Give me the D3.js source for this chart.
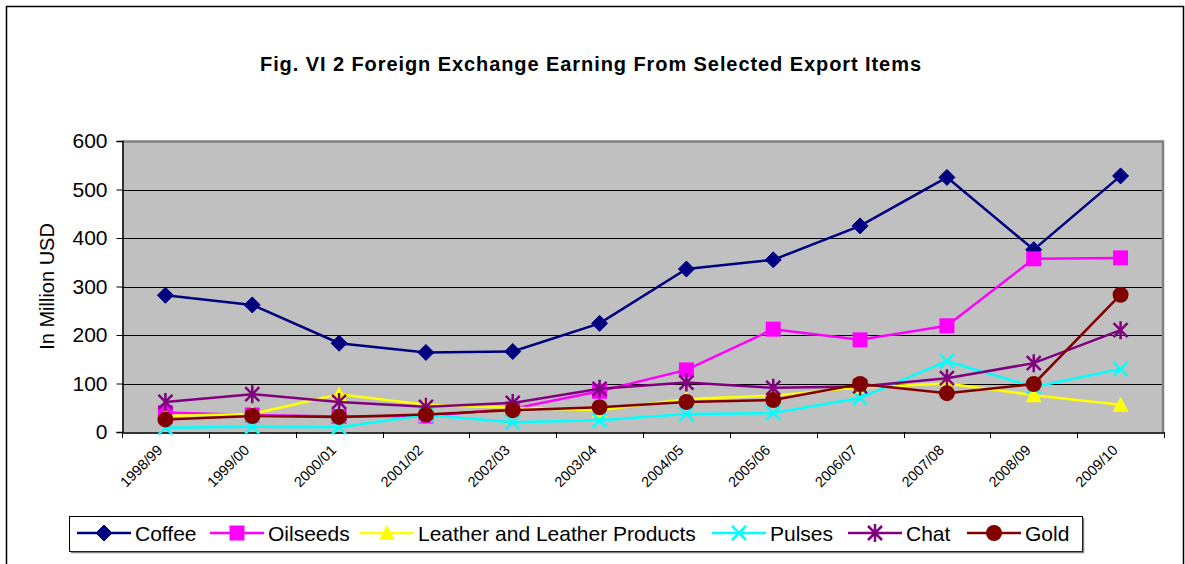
<!DOCTYPE html>
<html>
<head>
<meta charset="utf-8">
<script src="https://cdn.jsdelivr.net/npm/d3@7"></script>
<style>
  body { margin: 0; background: #fff; }
  svg { display: block; font-family: Arial, "Liberation Sans", sans-serif; }
</style>
</head>
<body>
<div id="chart"></div>
<script>
// data
var years = ["1998/99", "1999/00", "2000/01", "2001/02", "2002/03", "2003/04",
  "2004/05", "2005/06", "2006/07", "2007/08", "2008/09", "2009/10"];
var coffee = [282, 262, 183, 164, 166, 224, 336, 355, 425, 525, 376, 528];
var oilseeds = [40, 35, 32, 33, 48, 84, 128, 212, 190, 219, 357, 359];
var leather = [33, 37, 78, 56, 50, 45, 68, 75, 92, 100, 76, 56];
var pulses = [9, 11, 10, 35, 20, 24, 37, 39, 70, 146, 93, 130];
var chat = [62, 78, 62, 52, 60, 89, 102, 91, 94, 111, 142, 210];
var gold = [26, 33, 31, 36, 45, 51, 62, 66, 99, 80, 99, 283];
var yTicks = [0, 100, 200, 300, 400, 500, 600];

var series = [
  { name: "Coffee", values: coffee, color: "#000080", marker: "diamond" },
  { name: "Oilseeds", values: oilseeds, color: "#FF00FF", marker: "square" },
  { name: "Leather and Leather Products", values: leather, color: "#FFFF00", marker: "triangle" },
  { name: "Pulses", values: pulses, color: "#00FFFF", marker: "x" },
  { name: "Chat", values: chat, color: "#800080", marker: "star" },
  { name: "Gold", values: gold, color: "#800000", marker: "circle" }
];

var w = 1185, h = 564;
var plotLeft = 122, plotRight = 1164, plotTop = 141, plotBottom = 432;

var svg = d3.select("#chart").append("svg")
  .attr("width", w)
  .attr("height", h);

// outer frame
svg.append("rect")
  .attr("x", 6.5).attr("y", 6.5)
  .attr("width", 1177).attr("height", 600)
  .attr("fill", "#fff")
  .attr("stroke", "#000")
  .attr("stroke-width", 1.5);

var x = d3.scaleBand().domain(years).range([plotLeft, plotRight]);
var y = d3.scaleLinear().domain([0, 600]).range([plotBottom, plotTop]);

// plot area
svg.append("rect")
  .attr("x", plotLeft).attr("y", plotTop)
  .attr("width", plotRight - plotLeft).attr("height", plotBottom - plotTop)
  .attr("fill", "#C0C0C0");

// gridlines
svg.append("g")
  .selectAll("line")
  .data(yTicks.slice(1, -1))
  .enter()
  .append("line")
  .attr("x1", plotLeft).attr("x2", plotRight)
  .attr("y1", function(d) { return Math.round(y(d)) + 0.5; })
  .attr("y2", function(d) { return Math.round(y(d)) + 0.5; })
  .attr("stroke", "#000")
  .attr("stroke-width", 1);

// gray border top and right
svg.append("path")
  .attr("d", "M" + plotLeft + "," + (plotTop + 0.5) + "H" + (plotRight - 1) + "V" + plotBottom)
  .attr("fill", "none")
  .attr("stroke", "#808080")
  .attr("stroke-width", 2.5);

// y axis
var yAxis = d3.axisLeft(y).tickValues(yTicks).tickSize(6).tickPadding(9);
var gy = svg.append("g")
  .attr("transform", "translate(" + (plotLeft + 0.5) + ",0)")
  .call(yAxis);
gy.select(".domain").attr("stroke", "#000").attr("stroke-width", 1.5);
gy.selectAll(".tick line").attr("stroke", "#000");
gy.selectAll(".tick text")
  .attr("font-size", "21px")
  .attr("font-family", "Arial, 'Liberation Sans', sans-serif")
  .attr("fill", "#000");

// x axis, ticks at category boundaries
var xAxis = d3.axisBottom(x).tickSize(0).tickFormat("");
var gx = svg.append("g")
  .attr("transform", "translate(0," + (plotBottom + 0.5) + ")")
  .call(xAxis);
gx.select(".domain").attr("stroke", "#333").attr("stroke-width", 2);
gx.selectAll(".tick").remove();

svg.append("g")
  .selectAll("line")
  .data(years.concat(["end"]))
  .enter()
  .append("line")
  .attr("x1", function(d, i) { return Math.round(plotLeft + i * x.step()) + 0.5; })
  .attr("x2", function(d, i) { return Math.round(plotLeft + i * x.step()) + 0.5; })
  .attr("y1", plotBottom)
  .attr("y2", plotBottom + 6)
  .attr("stroke", "#000");

// x labels rotated
svg.append("g")
  .selectAll("text")
  .data(years)
  .enter()
  .append("text")
  .text(function(d) { return d; })
  .attr("transform", function(d) {
    return "translate(" + (x(d) + x.bandwidth() / 2 - 2) + "," + (plotBottom + 19) + ") rotate(-45)";
  })
  .attr("text-anchor", "end")
  .attr("font-size", "14.5px")
  .attr("fill", "#000");

// markers
function drawMarker(g, type, color, cx, cy) {
  if (type == "diamond") {
    g.append("path")
      .attr("d", "M" + cx + "," + (cy - 8) + "L" + (cx + 8) + "," + cy + "L" + cx + "," + (cy + 8) + "L" + (cx - 8) + "," + cy + "Z")
      .attr("fill", color).attr("stroke", color).attr("stroke-width", 1);
  } else if (type == "square") {
    g.append("rect")
      .attr("x", cx - 7.5).attr("y", cy - 7.5).attr("width", 15).attr("height", 15)
      .attr("fill", color);
  } else if (type == "triangle") {
    g.append("path")
      .attr("d", "M" + cx + "," + (cy - 8) + "L" + (cx + 8) + "," + (cy + 7) + "L" + (cx - 8) + "," + (cy + 7) + "Z")
      .attr("fill", color);
  } else if (type == "x") {
    g.append("path")
      .attr("d", "M" + (cx - 7) + "," + (cy - 7) + "L" + (cx + 7) + "," + (cy + 7) + "M" + (cx + 7) + "," + (cy - 7) + "L" + (cx - 7) + "," + (cy + 7))
      .attr("stroke", color).attr("stroke-width", 2.5);
  } else if (type == "star") {
    g.append("path")
      .attr("d", "M" + (cx - 7) + "," + (cy - 7) + "L" + (cx + 7) + "," + (cy + 7) + "M" + (cx + 7) + "," + (cy - 7) + "L" + (cx - 7) + "," + (cy + 7) + "M" + cx + "," + (cy - 9) + "L" + cx + "," + (cy + 9))
      .attr("stroke", color).attr("stroke-width", 2.5);
  } else if (type == "circle") {
    g.append("circle")
      .attr("cx", cx).attr("cy", cy).attr("r", 8)
      .attr("fill", color);
  }
}

// lines
var line = d3.line()
  .x(function(d, i) { return x(years[i]) + x.bandwidth() / 2; })
  .y(function(d) { return y(d); });

series.forEach(function(s) {
  var g = svg.append("g");
  g.append("path")
    .attr("d", line(s.values))
    .attr("fill", "none")
    .attr("stroke", s.color)
    .attr("stroke-width", 2.5);
  s.values.forEach(function(v, i) {
    drawMarker(g, s.marker, s.color, x(years[i]) + x.bandwidth() / 2, y(v));
  });
});

// title
svg.append("text")
  .text("Fig. VI 2 Foreign Exchange Earning From Selected Export Items")
  .attr("x", 260)
  .attr("y", 71)
  .attr("textLength", 661)
  .attr("lengthAdjust", "spacing")
  .attr("font-size", "20px")
  .attr("font-weight", "bold")
  .attr("fill", "#000");

// y axis title
svg.append("text")
  .text("In Million USD")
  .attr("transform", "translate(54," + ((plotTop + plotBottom) / 2) + ") rotate(-90)")
  .attr("text-anchor", "middle")
  .attr("font-size", "20px")
  .attr("fill", "#000");

// legend
var legendX = [77, 210, 360, 712, 848, 967];
svg.append("rect")
  .attr("x", 69.5).attr("y", 516.5)
  .attr("width", 1013).attr("height", 35)
  .attr("fill", "#fff")
  .attr("stroke", "#000")
  .attr("stroke-width", 1);
svg.append("path")
  .attr("d", "M71,552.5H1083.5V518")
  .attr("fill", "none")
  .attr("stroke", "#808080")
  .attr("stroke-width", 1.5);

series.forEach(function(s, i) {
  var g = svg.append("g");
  var lx = legendX[i];
  g.append("line")
    .attr("x1", lx).attr("x2", lx + 54)
    .attr("y1", 533).attr("y2", 533)
    .attr("stroke", s.color)
    .attr("stroke-width", 2.5);
  drawMarker(g, s.marker, s.color, lx + 27, 533);
  g.append("text")
    .text(s.name)
    .attr("x", lx + 58)
    .attr("y", 541)
    .attr("font-size", "21px")
    .attr("fill", "#000");
});
</script>
</body>
</html>
